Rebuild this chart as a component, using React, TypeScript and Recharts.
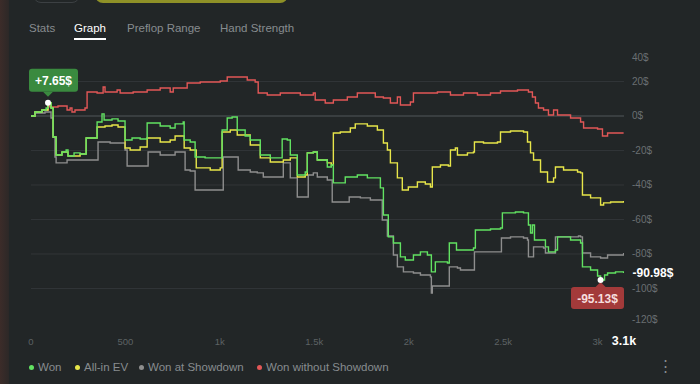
import React from 'react';
import { LineChart, Line, XAxis, YAxis, ReferenceLine, ReferenceDot } from 'recharts';

// hands played (x) and cumulative $ (y)
const wonHands = [0, 21, 58, 80, 90, 106, 117, 133, 164, 186, 196, 228, 260, 292, 350, 376, 387, 429, 461, 498, 535, 578, 615, 684, 737, 763, 806, 811, 843, 869, 922, 1002, 1012, 1039, 1065, 1092, 1134, 1161, 1214, 1267, 1330, 1357, 1373, 1410, 1452, 1463, 1495, 1516, 1569, 1590, 1601, 1664, 1728, 1781, 1850, 1866, 1892, 1919, 1956, 1982, 2025, 2062, 2099, 2120, 2141, 2205, 2215, 2253, 2343, 2353, 2433, 2486, 2496, 2565, 2608, 2634, 2645, 2655, 2666, 2724, 2740, 2777, 2788, 2857, 2910, 2920, 2963, 3000, 3016, 3037, 3053, 3095, 3138];
const wonValues = [0, 2.3, 3.5, 4.6, 7.65, 4.6, -12.2, -22.6, -20.9, -19.7, -23.2, -21.4, -22, -12.8, -3.5, 1.2, -2.3, -1.7, -2.9, -13.9, -12.8, -13.3, -4.1, -5.8, -7, -4.6, -3.5, -13.9, -15.1, -23.8, -24.3, -24.3, -8.1, -1.2, -0.6, -8.1, -11.6, -13.9, -22.6, -24.3, -13.3, -13.9, -22.6, -34.2, -32.5, -21.4, -20.9, -25.5, -29.6, -28.4, -38.8, -35.4, -34.2, -35.9, -41.7, -57.4, -70.1, -73.6, -81.7, -83.5, -80.6, -78.8, -80.6, -90.4, -84.6, -85.2, -73.6, -77.7, -76.5, -66.1, -65.5, -64.9, -56.2, -55.7, -56.2, -63.2, -67.8, -63.2, -71.9, -75.9, -78.8, -77.7, -70.1, -71.9, -73.6, -87.5, -89.3, -92.8, -95.13, -92.2, -91, -90.4, -90.98];

const allinHands = [0, 21, 58, 90, 106, 117, 133, 164, 196, 260, 292, 350, 392, 429, 461, 498, 525, 578, 615, 684, 737, 763, 806, 811, 843, 875, 949, 1002, 1012, 1055, 1092, 1161, 1214, 1267, 1336, 1373, 1410, 1452, 1463, 1495, 1516, 1569, 1590, 1601, 1638, 1691, 1717, 1781, 1834, 1866, 1887, 1903, 1940, 1966, 1998, 2046, 2088, 2115, 2125, 2168, 2210, 2221, 2247, 2258, 2311, 2343, 2348, 2396, 2470, 2486, 2539, 2608, 2629, 2645, 2661, 2698, 2735, 2767, 2777, 2820, 2894, 2910, 2920, 2963, 3016, 3032, 3069, 3138];
const allinValues = [0, 2.3, 3.5, 7.65, 4.6, -12.2, -22.6, -20.9, -23.2, -22, -12.8, -6.4, -5.8, -5.2, -6.4, -18.6, -19.7, -18, -12.8, -15.1, -13.9, -11.6, -11.6, -18.6, -19.7, -30.1, -31.3, -30.1, -9.3, -8.1, -11, -16.8, -24.3, -26.7, -25.5, -24.3, -35.4, -34.2, -21.4, -20.9, -25.5, -27.2, -28.4, -9.9, -9.3, -7, -4.6, -5.8, -8.1, -15.7, -19.7, -27.2, -35.9, -42.9, -41.2, -38.3, -39.4, -41.2, -29.6, -28.4, -29, -19.7, -18.6, -22.6, -21.4, -20.9, -15.1, -15.7, -15.1, -9.3, -8.7, -9.3, -15.1, -21.4, -25.5, -32.5, -38.3, -35.9, -29.6, -31.3, -32.5, -33, -45.8, -47.5, -51.6, -50.4, -49.9, -49.3];

const showdownHands = [0, 21, 74, 90, 106, 117, 127, 133, 191, 350, 355, 419, 488, 498, 509, 615, 620, 684, 763, 806, 816, 843, 869, 1012, 1018, 1092, 1097, 1161, 1198, 1230, 1330, 1336, 1362, 1373, 1410, 1463, 1468, 1495, 1516, 1569, 1585, 1595, 1680, 1685, 1744, 1797, 1850, 1860, 1887, 1919, 1940, 1972, 2025, 2062, 2115, 2120, 2125, 2210, 2215, 2258, 2274, 2343, 2348, 2486, 2491, 2539, 2608, 2629, 2634, 2655, 2661, 2714, 2724, 2767, 2777, 2820, 2899, 2910, 2920, 2963, 3016, 3053, 3138];
const showdownValues = [0, 1.7, 2.3, 2.3, -1.2, -12.2, -23.8, -27.2, -25.5, -25.5, -15.1, -15.7, -15.7, -19.7, -29, -29, -20.9, -22.6, -20.9, -20.9, -31.3, -31.9, -42.9, -42.9, -23.8, -23.8, -31.3, -32.5, -33, -35.4, -35.4, -27.2, -27.2, -35.9, -47, -47, -34.2, -33, -35.4, -37.1, -37.1, -49.9, -49.9, -47, -47.5, -48.7, -48.7, -60.3, -69.6, -80.6, -87.5, -90.4, -91, -92.2, -93.3, -102.6, -98.6, -98.6, -87.5, -88.1, -89.3, -89.3, -78.8, -78.8, -70.7, -70.1, -70.7, -71.9, -81.7, -81.7, -75.9, -76.5, -79.4, -79.4, -70.1, -70.1, -69.6, -70.1, -79.4, -81.7, -82.3, -80.6, -79.4];

const nonShowdownHands = [0, 21, 58, 90, 101, 143, 170, 191, 207, 217, 233, 286, 297, 350, 382, 392, 456, 472, 541, 615, 684, 737, 753, 827, 896, 965, 1002, 1039, 1108, 1145, 1187, 1203, 1251, 1320, 1389, 1426, 1495, 1505, 1558, 1601, 1675, 1728, 1781, 1823, 1866, 1903, 1940, 1956, 2009, 2025, 2099, 2152, 2221, 2290, 2364, 2433, 2486, 2576, 2634, 2655, 2671, 2687, 2714, 2740, 2767, 2788, 2857, 2910, 2926, 3000, 3026, 3053, 3138];
const nonShowdownValues = [0, 2.3, 3.5, 5.8, 5.2, 5.8, 5.8, 3.5, 4.6, 2.3, 3.5, 4.6, 13.9, 13.3, 16.8, 13.9, 15.1, 13.3, 13.9, 15.1, 16.2, 13.9, 16.2, 19.1, 19.7, 19.7, 20.3, 22.6, 22.6, 20.9, 19.7, 13.3, 12.2, 13.3, 13.3, 12.2, 13.3, 9.3, 7.5, 9.3, 11, 13.3, 13.3, 11, 10.4, 7.5, 11, 6.4, 8.1, 13.3, 13.3, 13.9, 12.2, 13.3, 12.2, 13.3, 14.5, 15.1, 13.9, 11, 7.5, 4.6, 3.5, 0.6, 3.5, 0.6, -1.2, -3.5, -7, -7.5, -11.6, -9.9, -9.9];

const TOTAL_HANDS = 3140;
const xTicks = [0, 500, 1000, 1500, 2000, 2500, 3000, TOTAL_HANDS];
const yTicks = [40, 20, 0, -20, -40, -60, -80, -100, -120];
const gridValues = [20, -20, -40, -60, -80, -100];
const tabs = ['Stats', 'Graph', 'Preflop Range', 'Hand Strength'];

const GREEN = '#62e262';
const YELLOW = '#e8e64a';
const GRAY = '#8e8e8e';
const RED = '#e25757';
const BG = '#222627';
const FONT = '"Liberation Sans", Arial, sans-serif';

const PLOT_TOP = 57;
const PLOT_BOTTOM = 319;

const toPoints = (hands: number[], values: number[]) =>
  hands.map((hand, i) => ({ hand, value: values[i] }));

const series = [
  { name: 'Won at Showdown', color: GRAY, data: toPoints(showdownHands, showdownValues) },
  { name: 'Won without Showdown', color: RED, data: toPoints(nonShowdownHands, nonShowdownValues) },
  { name: 'All-in EV', color: YELLOW, data: toPoints(allinHands, allinValues) },
  { name: 'Won', color: GREEN, data: toPoints(wonHands, wonValues) },
];
const legendOrder = ['Won', 'All-in EV', 'Won at Showdown', 'Won without Showdown'];
const legendLeft = [29, 75, 139, 257];

const peakIdx = wonValues.indexOf(Math.max(...wonValues));
const lowIdx = wonValues.indexOf(Math.min(...wonValues));
const lastIdx = wonValues.length - 1;

const fmtHands = (v: number) => (v === TOTAL_HANDS ? '3.1k' : v < 1000 ? String(v) : `${v / 1000}k`);

function XTick({ x, y, payload }: any) {
  const last = payload.value === TOTAL_HANDS;
  return (
    <text x={x} y={y + 20} textAnchor="middle" dominantBaseline="central"
      fill={last ? '#ffffff' : '#5d6264'} fontSize={last ? 12.5 : 9.5}
      fontWeight={last ? 700 : 400} fontFamily={FONT}>
      {fmtHands(payload.value)}
    </text>
  );
}

function YTick({ x, y, payload }: any) {
  const ty = Math.min(PLOT_BOTTOM, Math.max(PLOT_TOP, y));
  return (
    <text x={x + 6} y={ty} textAnchor="start" dominantBaseline="central"
      fill="#6a6f72" fontSize={10} fontFamily={FONT}>
      {`${payload.value}$`}
    </text>
  );
}

function PeakMarker({ cx, cy }: any) {
  const w = 49, h = 23;
  const left = Math.max(29, cx - w / 2);
  const top = cy - 34;
  return (
    <g>
      <rect x={left} y={top} width={w} height={h} rx={3} fill="#3a8a3f" />
      <path d={`M${cx - 5},${top + h} L${cx + 5},${top + h} L${cx},${top + h + 5} Z`} fill="#3a8a3f" />
      <text x={left + w / 2} y={top + h / 2 + 0.5} textAnchor="middle" dominantBaseline="central"
        fill="#ffffff" fontSize={12} fontWeight={700} fontFamily={FONT}>
        {`+${wonValues[peakIdx]}$`}
      </text>
      <circle cx={cx} cy={cy} r={3} fill="#ffffff" />
    </g>
  );
}

function LowMarker({ cx, cy }: any) {
  const w = 53, h = 22;
  const left = Math.min(624 - w, cx - w / 2);
  const top = cy + 7;
  return (
    <g>
      <rect x={left} y={top} width={w} height={h} rx={3} fill="#a33a3a" />
      <path d={`M${cx - 5},${top} L${cx + 5},${top} L${cx},${top - 5} Z`} fill="#a33a3a" />
      <text x={left + w / 2} y={top + h / 2 + 0.5} textAnchor="middle" dominantBaseline="central"
        fill="#f6dede" fontSize={12} fontWeight={700} fontFamily={FONT}>
        {`${wonValues[lowIdx]}$`}
      </text>
      <circle cx={cx} cy={cy} r={3} fill="#ffffff" />
    </g>
  );
}

function EndLabel({ cx, cy }: any) {
  return (
    <text x={cx + 9} y={cy} textAnchor="start" dominantBaseline="central"
      fill="#ffffff" fontSize={12} fontWeight={700} fontFamily={FONT}>
      {`${wonValues[lastIdx]}$`}
    </text>
  );
}

export default function App() {
  return (
    <div style={{ position: 'fixed', left: 0, top: 0, width: 700, height: 384, background: BG, overflow: 'hidden', fontFamily: FONT }}>
      <div style={{ position: 'absolute', left: 0, top: 0, width: 9, height: 384, background: 'linear-gradient(to right, #3c2c29, #2c2827)' }} />
      <div style={{ position: 'absolute', left: 33, top: -20, width: 47, height: 23, border: '1px solid #3c4043', borderRadius: 8, boxSizing: 'border-box' }} />
      <div style={{ position: 'absolute', left: 95, top: -20, width: 193, height: 23, background: '#8f9127', borderRadius: 8 }} />

      {tabs.map((t, i) => (
        <div key={t} style={{
          position: 'absolute', left: [29, 74, 127, 220][i], top: 20, fontSize: 11.5, lineHeight: '16px',
          color: t === 'Graph' ? '#ffffff' : '#878c8f',
        }}>
          {t}
          {t === 'Graph' && <div style={{ height: 2, background: '#ffffff', marginTop: 2 }} />}
        </div>
      ))}

      <div style={{ position: 'absolute', left: 0, top: 0 }}>
        <LineChart width={700} height={384} margin={{ top: PLOT_TOP, right: 16, bottom: 0, left: 31 }}>
          <XAxis type="number" dataKey="hand" domain={[0, TOTAL_HANDS]} ticks={xTicks} interval={0}
            allowDataOverflow axisLine={false} tickLine={false} tickSize={0} height={65} tick={<XTick />} />
          <YAxis type="number" dataKey="value" orientation="right" domain={[-117.7, 34.2]} ticks={yTicks}
            interval={0} allowDataOverflow axisLine={false} tickLine={false} tickSize={0} width={60} tick={<YTick />} />
          {gridValues.map((v) => (
            <ReferenceLine key={v} y={v} stroke="#313538" strokeWidth={1} />
          ))}
          <ReferenceLine y={0} stroke="#42474a" strokeWidth={1.5} />
          {series.map((s) => (
            <Line key={s.name} data={s.data} dataKey="value" name={s.name} type="stepAfter"
              stroke={s.color} strokeWidth={1.4} dot={false} isAnimationActive={false} />
          ))}
          <ReferenceDot x={wonHands[peakIdx]} y={wonValues[peakIdx]} r={3} shape={(p: any) => <PeakMarker {...p} />} />
          <ReferenceDot x={wonHands[lowIdx]} y={wonValues[lowIdx]} r={3} shape={(p: any) => <LowMarker {...p} />} />
          <ReferenceDot x={wonHands[lastIdx]} y={wonValues[lastIdx]} r={0} shape={(p: any) => <EndLabel {...p} />} />
        </LineChart>
      </div>

      {legendOrder.map((name, i) => {
        const s = series.find((d) => d.name === name)!;
        return (
          <div key={name} style={{ position: 'absolute', left: legendLeft[i], top: 359, height: 16, display: 'flex', alignItems: 'center', fontSize: 11.5, color: '#878c8f' }}>
            <span style={{ width: 5, height: 5, borderRadius: '50%', background: s.color, marginRight: 4 }} />
            {name}
          </div>
        );
      })}
      <div style={{ position: 'absolute', left: 658, top: 357, fontSize: 15, color: '#878c8f' }}>⋮</div>
    </div>
  );
}
